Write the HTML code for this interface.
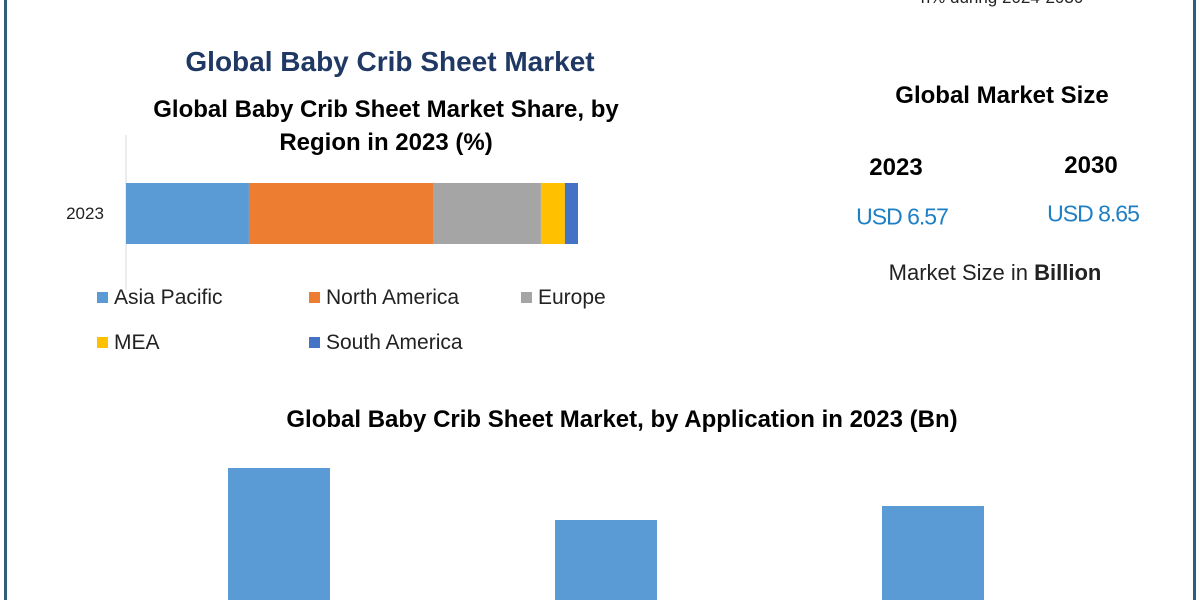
<!DOCTYPE html>
<html><head><meta charset="utf-8"><style>
body{margin:0;width:1200px;height:600px;overflow:hidden;background:#fff;font-family:"Liberation Sans",sans-serif;position:relative}
.t{position:absolute;white-space:nowrap;transform:translate(-50%,-50%);color:#000}
.b{font-weight:bold}
.leg{position:absolute;font-size:21px;color:#222;white-space:nowrap;transform:translateY(-50%)}
.sw{display:inline-block;width:11px;height:11px;margin-right:6px;vertical-align:1px}
</style></head><body>
<div style="position:absolute;left:4px;top:0;width:3px;height:600px;background:#2f5e78"></div>
<div style="position:absolute;left:1193px;top:0;width:3px;height:600px;background:#2f5e78"></div>
<div class="t" style="left:1002px;top:-2px;font-size:17px;color:#222">n% during 2024-2030</div>
<div class="t b" style="left:390px;top:62px;font-size:28px;color:#1f3864">Global Baby Crib Sheet Market</div>
<div class="t b" style="left:386px;top:126px;font-size:24px;text-align:center;line-height:33px">Global Baby Crib Sheet Market Share, by<br>Region in 2023 (%)</div>
<div class="t b" style="left:1002px;top:96px;font-size:24px">Global Market Size</div>
<div class="t b" style="left:896px;top:168px;font-size:24px">2023</div>
<div class="t b" style="left:1091px;top:166px;font-size:24px">2030</div>
<div class="t" style="left:902px;top:217px;font-size:23px;color:#1e7fc4;letter-spacing:-1px">USD 6.57</div>
<div class="t" style="left:1093px;top:214px;font-size:23px;color:#1e7fc4;letter-spacing:-1px">USD 8.65</div>
<div class="t" style="left:995px;top:273px;font-size:22px;color:#222">Market Size in <b>Billion</b></div>
<div class="t b" style="left:622px;top:420px;font-size:24px">Global Baby Crib Sheet Market, by Application in 2023 (Bn)</div>
<svg width="1200" height="600" style="position:absolute;left:0;top:0">
<line x1="126" y1="135" x2="126" y2="290" stroke="#d9d9d9"/>
<text x="85" y="219" font-size="17" text-anchor="middle" fill="#222" font-family="Liberation Sans">2023</text>
<g id="share"></g><g id="app"></g>
</svg>
<div class="leg" style="left:97px;top:298px"><span class="sw" style="background:#5b9bd5"></span>Asia Pacific</div>
<div class="leg" style="left:309px;top:298px"><span class="sw" style="background:#ed7d31"></span>North America</div>
<div class="leg" style="left:521px;top:298px"><span class="sw" style="background:#a5a5a5"></span>Europe</div>
<div class="leg" style="left:97px;top:343px"><span class="sw" style="background:#ffc000"></span>MEA</div>
<div class="leg" style="left:309px;top:343px"><span class="sw" style="background:#4472c4"></span>South America</div>
<script>
const regions=["Asia Pacific","North America","Europe","MEA","South America"];
const shares=[27.2,40.9,23.7,5.3,2.9];
const regionColors=["#5b9bd5","#ed7d31","#a5a5a5","#ffc000","#4472c4"];
const applications=["App 1","App 2","App 3"];
const appValues=[1.32,0.80,0.94];
const NS="http://www.w3.org/2000/svg";
const xShare=v=>126+v*4.52;
let acc=0;const g=document.getElementById('share');
shares.forEach((v,i)=>{const r=document.createElementNS(NS,'rect');
r.setAttribute('x',xShare(acc));r.setAttribute('width',xShare(acc+v)-xShare(acc));
r.setAttribute('y',183);r.setAttribute('height',61);r.setAttribute('fill',regionColors[i]);


g.appendChild(r);acc+=v;});
const yApp=v=>600-v*100;
const ga=document.getElementById('app');
appValues.forEach((v,i)=>{const r=document.createElementNS(NS,'rect');
r.setAttribute('x',228+i*327);r.setAttribute('width',102);
r.setAttribute('y',yApp(v));r.setAttribute('height',600-yApp(v));r.setAttribute('fill','#5b9bd5');


ga.appendChild(r);});
</script>
</body></html>
